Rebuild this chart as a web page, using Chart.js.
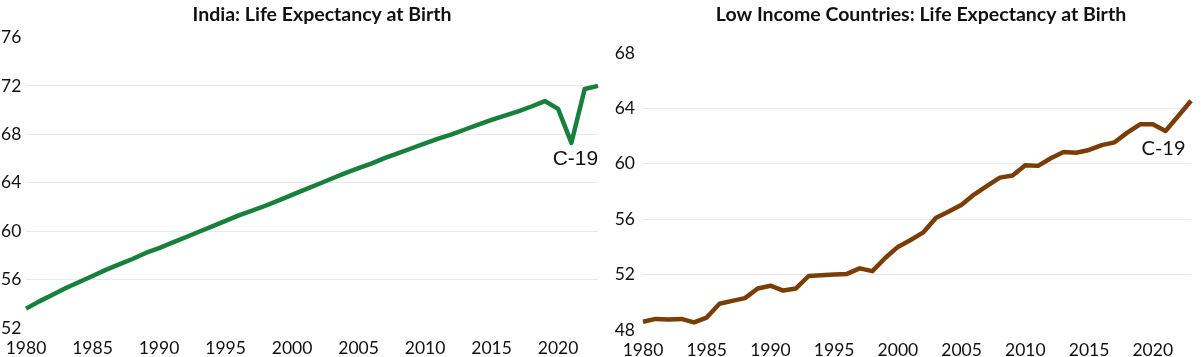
<!DOCTYPE html>
<html>
<head>
<meta charset="utf-8">
<script src="https://cdn.jsdelivr.net/npm/chart.js@4.4.1/dist/chart.umd.min.js"></script>
<style>
  html, body { margin: 0; padding: 0; background: #ffffff; }
  #wrap { position: relative; width: 1202px; height: 357px; overflow: hidden; }
  .box { position: absolute; top: 0; height: 357px; }
  #leftBox { left: 0; width: 600px; }
  #rightBox { left: 600px; width: 602px; }
</style>
</head>
<body>
<div id="wrap">
  <div class="box" id="leftBox"><canvas id="cLeft" width="600" height="357"></canvas></div>
  <div class="box" id="rightBox"><canvas id="cRight" width="602" height="357"></canvas></div>
</div>
<script>
// ---- data ----
const years = [1980,1981,1982,1983,1984,1985,1986,1987,1988,1989,
               1990,1991,1992,1993,1994,1995,1996,1997,1998,1999,
               2000,2001,2002,2003,2004,2005,2006,2007,2008,2009,
               2010,2011,2012,2013,2014,2015,2016,2017,2018,2019,
               2020,2021,2022,2023];
const indiaLE = [53.6,54.2,54.75,55.3,55.8,56.3,56.8,57.25,57.7,58.2,
                 58.6,59.05,59.5,59.95,60.4,60.85,61.3,61.7,62.1,62.55,
                 63.0,63.45,63.9,64.35,64.8,65.2,65.6,66.05,66.45,66.85,
                 67.25,67.65,68.0,68.4,68.8,69.2,69.55,69.9,70.3,70.75,
                 70.1,67.3,71.75,72.0];
const lowIncomeLE = [48.6,48.8,48.75,48.8,48.55,48.9,49.9,50.1,50.3,51.0,
                     51.2,50.85,51.0,51.9,51.95,52.0,52.05,52.45,52.25,53.2,
                     54.0,54.5,55.05,56.1,56.55,57.05,57.8,58.4,59.0,59.15,
                     59.9,59.85,60.4,60.85,60.8,61.0,61.35,61.55,62.25,62.85,
                     62.85,62.37,63.45,64.55];
const xTickYears = [1980,1985,1990,1995,2000,2005,2010,2015,2020];
const indiaTicks = [52,56,60,64,68,72,76];
const lowTicks = [48,52,56,60,64,68];
const titles = ["India: Life Expectancy at Birth", "Low Income Countries: Life Expectancy at Birth"];
const annotationText = "C-19";
const annotationYear = 2021;

const FONT = "Lato, 'Open Sans', 'Liberation Sans', sans-serif";

function decoPlugin(opts) {
  return {
    id: 'deco',
    afterDatasetsDraw(chart) {
      const ctx = chart.ctx;
      const xs = chart.scales.x, ys = chart.scales.y;
      const idx = years.indexOf(annotationYear);
      const v = chart.data.datasets[0].data[idx];
      const x = xs.getPixelForValue(idx) + opts.dx;
      const y = ys.getPixelForValue(v) + opts.dy;
      ctx.save();
      ctx.font = opts.font;
      ctx.fillStyle = '#111111';
      ctx.textAlign = 'center';
      ctx.textBaseline = 'middle';
      ctx.fillText(annotationText, x, y);
      // chart title
      const ca = chart.chartArea;
      ctx.font = "bold 19.5px " + FONT;
      ctx.fillText(opts.title, (ca.left + ca.right) / 2 + opts.titleDx, 15);
      ctx.restore();
    }
  };
}

function makeChart(canvasId, title, data, color, ticks, leftPad, leftW, topPad, rightPad, xH, cross, annot) {
  const minV = ticks[0], maxV = ticks[ticks.length - 1];
  annot.title = title;
  return new Chart(document.getElementById(canvasId), {
    type: 'line',
    data: {
      labels: years.map(String),
      datasets: [{
        data: data,
        borderColor: color,
        borderWidth: 4.5,
        pointRadius: 0,
        tension: 0,
        fill: false,
        borderJoinStyle: 'round',
        borderCapStyle: 'butt'
      }]
    },
    options: {
      responsive: false,
      animation: false,
      devicePixelRatio: 1,
      layout: { padding: { left: leftPad, right: rightPad, top: topPad, bottom: 0 } },
      plugins: {
        legend: { display: false },
        tooltip: { enabled: false },
        title: { display: false }
      },
      scales: {
        x: {
          type: 'category',
          offset: false,
          border: { display: false },
          grid: { display: false, drawTicks: false },
          ticks: {
            autoSkip: false,
            maxRotation: 0,
            minRotation: 0,
            padding: 10,
            color: '#111111',
            font: { family: FONT, size: 17.5 },
            callback: function(val, i) {
              const yr = years[i];
              return xTickYears.includes(yr) ? String(yr) : '';
            }
          },
          afterFit: s => { s.height = xH; s.paddingRight = 0; s.paddingLeft = 0; }
        },
        y: {
          min: minV,
          max: maxV,
          border: { display: false },
          grid: {
            drawTicks: false,
            lineWidth: 1,
            color: c => (c.tick && (c.tick.value === minV || c.tick.value === maxV)) ? 'rgba(0,0,0,0)' : '#e9e9e9'
          },
          afterBuildTicks: s => { s.ticks = ticks.map(v => ({ value: v })); },
          ticks: {
            padding: 8,
            crossAlign: cross,
            color: '#111111',
            font: { family: FONT, size: 17.5 },
            callback: v => String(v)
          },
          afterFit: s => { s.width = leftW; }
        }
      }
    },
    plugins: [decoPlugin(annot)]
  });
}

makeChart('cLeft', titles[0], indiaLE, '#16803c', indiaTicks, 1, 25, 37.5, 2, 29, 'far',
  { dx: 4, dy: 16, font: "21px 'Liberation Sans', Arial, sans-serif", titleDx: 10 });
makeChart('cRight', titles[1], lowIncomeLE, '#7a3d06', lowTicks, 0, 43, 53, 11, 27, 'near',
  { dx: -2, dy: 18, font: "20px " + FONT, titleDx: 4 });
</script>
</body>
</html>
